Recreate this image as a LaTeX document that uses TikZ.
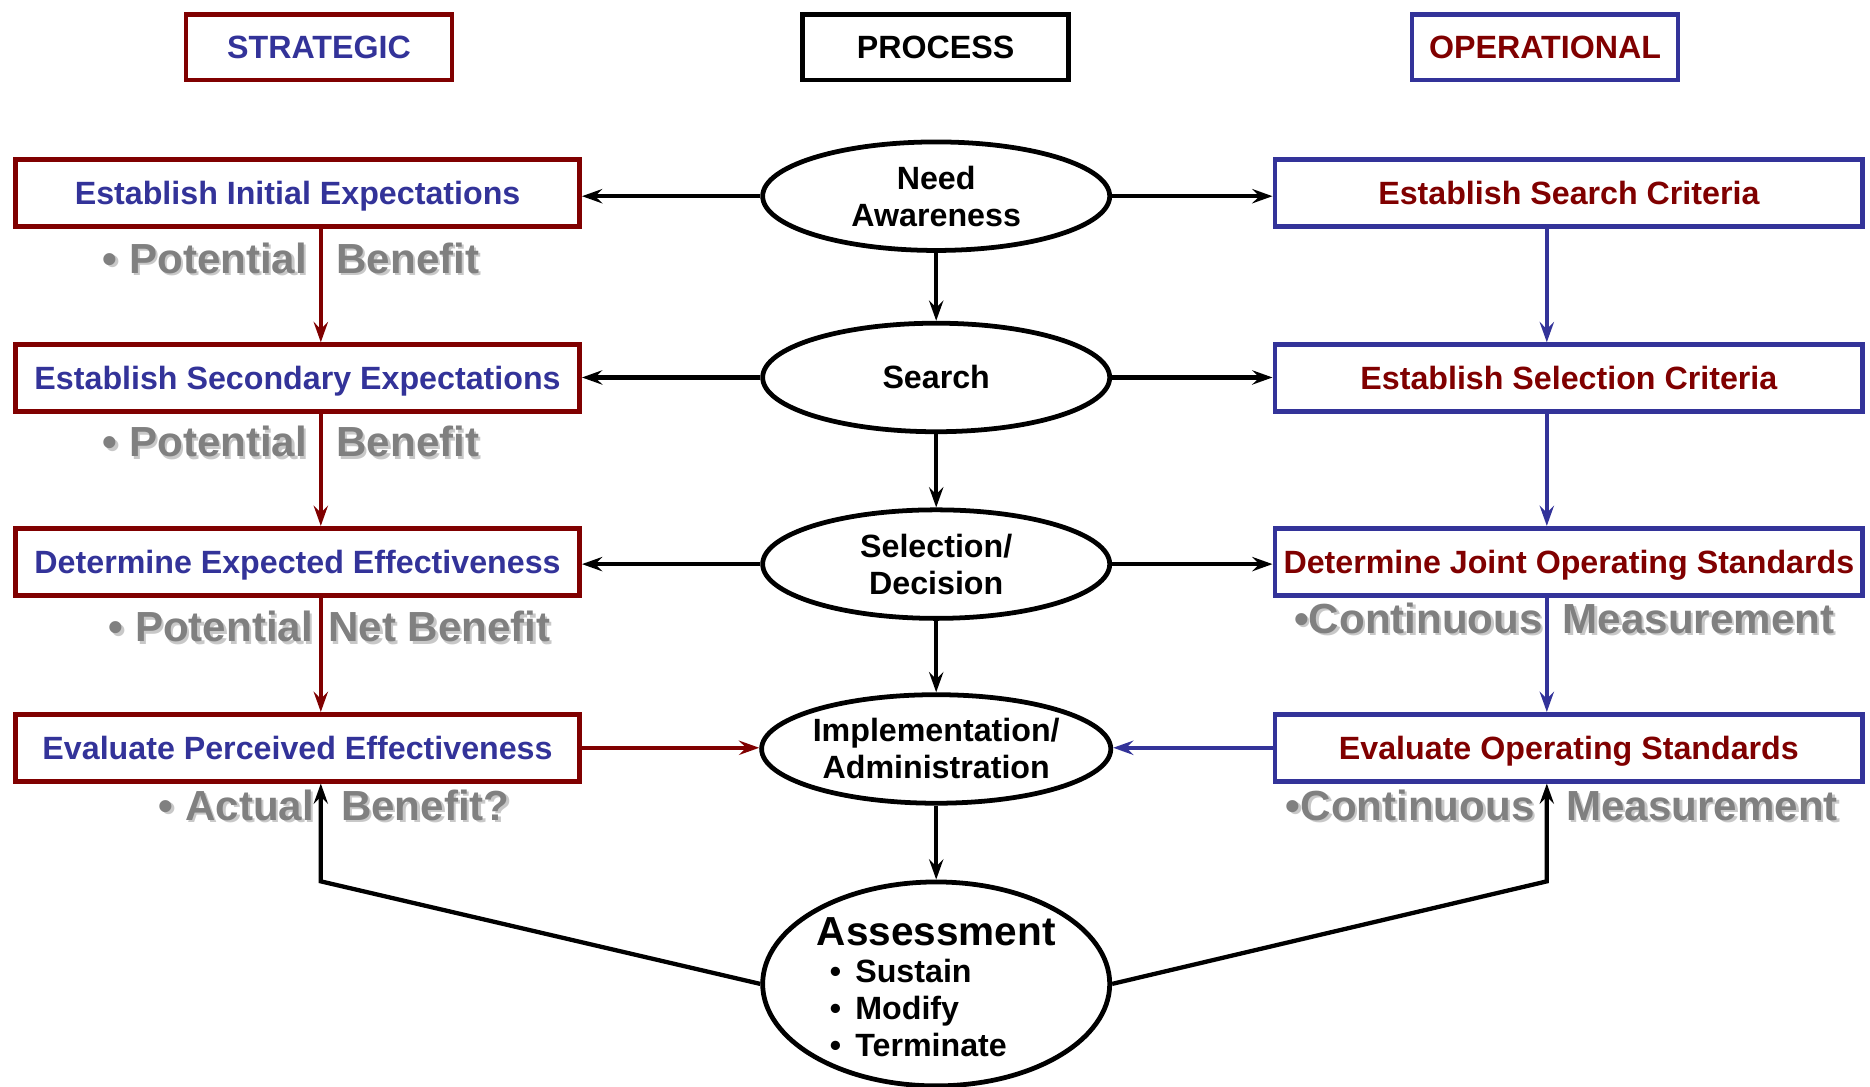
\documentclass[tikz,border=0pt]{standalone}
\usepackage{fontspec}
\setmainfont{Liberation Sans}
\usetikzlibrary{arrows.meta,positioning,shapes.geometric,calc}
\definecolor{stratred}{RGB}{128,0,0}
\definecolor{opblue}{RGB}{51,51,153}
\definecolor{notegray}{RGB}{128,128,128}
\definecolor{noteshade}{RGB}{200,200,200}

\begin{document}
\begin{tikzpicture}[x=1pt, y=-1pt, >={Stealth[length=17pt,width=12pt,inset=6pt]},
    box/.style={rectangle, draw, line width=4pt, minimum height=56pt, inner sep=0pt, text height=19.5pt, text depth=0pt, align=center, font=\fontsize{27}{32}\selectfont\bfseries},
    head/.style={box, minimum width=223pt, minimum height=55pt},
    strat/.style={box, draw=stratred, text=opblue, minimum width=473pt},
    oper/.style={box, draw=opblue, text=stratred, minimum width=493pt},
    stage/.style={ellipse, draw, line width=4pt, minimum width=291pt, minimum height=91pt, inner sep=0pt, align=center, font=\fontsize{27}{31}\selectfont\bfseries},
    note/.style={anchor=base west, inner sep=0pt, text=notegray, font=\fontsize{35.3}{40}\selectfont\bfseries},
    noteshadow/.style={note, text=noteshade},
    flow/.style={->, line width=3.6pt}]

    \useasboundingbox (0,0) rectangle (1568,911);

    % column heads
    \node[head, draw=stratred, text=opblue] (strategic) at (267.5,39.5) {STRATEGIC};
    \node[head] (process) at (784.5,39.5) {PROCESS};
    \node[head, draw=opblue, text=stratred] (operational) at (1295.5,39.5) {OPERATIONAL};

    % process stages
    \node[stage] (need) at (785,164.5) {Need\\Awareness};
    \node[stage] (search) at (785,316.5) {Search};
    \node[stage] (select) at (785,473) {Selection/\\Decision};
    \node[stage] (impl) at (785,628) {Implementation/\\Administration};
    \node[stage, minimum height=171pt] (assess) at (785,825) {};
    \node[align=center, inner sep=0pt, font=\fontsize{27}{31}\selectfont\bfseries] (assesstext) at ($(assess.center)+(0,7)$)
        {{\fontsize{34}{36}\selectfont Assessment}\\
         \begin{tabular}[t]{@{}l@{}}\textbullet\hspace{12pt}Sustain\\ \textbullet\hspace{12pt}Modify\\ \textbullet\hspace{12pt}Terminate\end{tabular}\rule{30pt}{0pt}};

    % strategic column
    \node[strat] (expinit) at (249.5,162) {Establish Initial Expectations};
    \node[strat] (expsec) at (249.5,317) {Establish Secondary Expectations};
    \node[strat] (expeff) at (249.5,471) {Determine Expected Effectiveness};
    \node[strat] (pereff) at (249.5,627) {Evaluate Perceived Effectiveness};

    % operational column
    \node[oper] (searchcrit) at (1315.5,162) {Establish Search Criteria};
    \node[oper] (selcrit) at (1315.5,317) {Establish Selection Criteria};
    \node[oper] (jointstd) at (1315.5,471) {Determine Joint Operating Standards};
    \node[oper] (evalstd) at (1315.5,627) {Evaluate Operating Standards};

    % benefit notes
    \node[noteshadow] (ben1s) at (88,231) {\textbullet\ Potential\hspace{15pt} Benefit};
    \node[note] (ben1) at (86,229) {\textbullet\ Potential\hspace{15pt} Benefit};
    \node[noteshadow] (ben2s) at (88,385) {\textbullet\ Potential\hspace{15pt} Benefit};
    \node[note] (ben2) at (86,383) {\textbullet\ Potential\hspace{15pt} Benefit};
    \node[noteshadow] (ben3s) at (93,540) {\textbullet\ Potential\hspace{3pt} Net Benefit};
    \node[note] (ben3) at (91,538) {\textbullet\ Potential\hspace{3pt} Net Benefit};
    \node[noteshadow] (ben4s) at (135,690) {\textbullet\ Actual\hspace{13pt} Benefit?};
    \node[note] (ben4) at (133,688) {\textbullet\ Actual\hspace{13pt} Benefit?};
    \node[noteshadow] (meas1s) at (1087,533) {\textbullet Continuous\hspace{7pt} Measurement};
    \node[note] (meas1) at (1085,531) {\textbullet Continuous\hspace{7pt} Measurement};
    \node[noteshadow] (meas2s) at (1080,690) {\textbullet Continuous\hspace{17pt} Measurement};
    \node[note] (meas2) at (1078,688) {\textbullet Continuous\hspace{17pt} Measurement};

    \coordinate (lcol) at (269,0);
    \coordinate (rcol) at (1297,0);
    \coordinate (lbend) at (269,739);
    \coordinate (rbend) at (1297,739);

    % process flow
    \draw[flow] (need.south) -- (search.north);
    \draw[flow] (search.south) -- (select.north);
    \draw[flow] (select.south) -- (impl.north);
    \draw[flow] (impl.south) -- (assess.north);

    \draw[flow] (need.west) -- (need.west -| expinit.east);
    \draw[flow] (search.west) -- (search.west -| expsec.east);
    \draw[flow] (select.west) -- (select.west -| expeff.east);
    \draw[flow] (need.east) -- (need.east -| searchcrit.west);
    \draw[flow] (search.east) -- (search.east -| selcrit.west);
    \draw[flow] (select.east) -- (select.east -| jointstd.west);

    % strategic and operational flow
    \draw[flow, stratred] (expinit.south -| lcol) -- (expsec.north -| lcol);
    \draw[flow, stratred] (expsec.south -| lcol) -- (expeff.north -| lcol);
    \draw[flow, stratred] (expeff.south -| lcol) -- (pereff.north -| lcol);
    \draw[flow, stratred] (pereff.east) -- (pereff.east -| impl.west);
    \draw[flow, opblue] (searchcrit.south -| rcol) -- (selcrit.north -| rcol);
    \draw[flow, opblue] (selcrit.south -| rcol) -- (jointstd.north -| rcol);
    \draw[flow, opblue] (jointstd.south -| rcol) -- (evalstd.north -| rcol);
    \draw[flow, opblue] (evalstd.west) -- (evalstd.west -| impl.east);

    % feedback from assessment
    \draw[flow] (assess.west) -- (lbend) -- (pereff.south -| lbend);
    \draw[flow] (assess.east) -- (rbend) -- (evalstd.south -| rbend);
\end{tikzpicture}
\end{document}
